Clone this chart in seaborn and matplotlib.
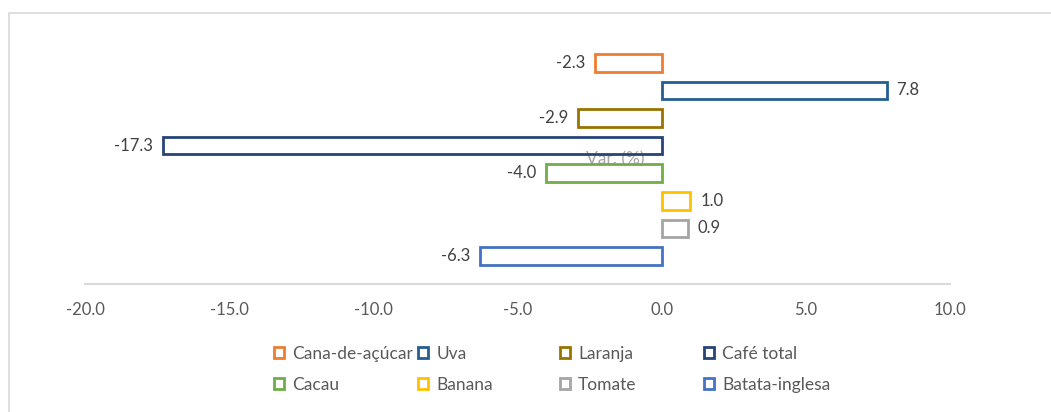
import matplotlib
matplotlib.use("Agg")
import matplotlib.pyplot as plt
from matplotlib.patches import Patch, Rectangle
from matplotlib.ticker import FuncFormatter, FixedLocator
import seaborn as sns
import pandas as pd

# Crop price variation (%)
categories = ["Cana-de-açúcar", "Uva", "Laranja", "Café total",
              "Cacau", "Banana", "Tomate", "Batata-inglesa"]
values = [-2.3, 7.8, -2.9, -17.3, -4.0, 1.0, 0.9, -6.3]
colors = ["#ED7D31", "#255E91", "#997300", "#264478",
          "#70AD47", "#FFC000", "#A5A5A5", "#4472C4"]
x_ticks = [-20, -15, -10, -5, 0, 5, 10]
axis_title = "Var. (%)"

sns.set_theme(style="white")
plt.rcParams["font.family"] = ["Lato", "DejaVu Sans"]
plt.rcParams["axes.unicode_minus"] = False

W, H = 1051, 412
fig = plt.figure(figsize=(W / 100, H / 100), dpi=100)

# plot area in pixel terms
left_px, right_px, top_px, bottom_px = 85, 950, 20, 284
ax = fig.add_axes([left_px / W, 1 - bottom_px / H,
                   (right_px - left_px) / W, (bottom_px - top_px) / H])

df = pd.DataFrame({"cat": categories, "val": values})
palette = dict(zip(categories, colors))
sns.barplot(data=df, x="val", y="cat", hue="cat", palette=palette,
            order=categories, hue_order=categories, orient="h",
            fill=False, width=0.64, linewidth=2.0, legend=False, ax=ax)

for cont in ax.containers:
    ax.bar_label(cont, fmt="%.1f", padding=7, fontsize=12, color="#404040")

ax.set_xlim(-20, 10)
ax.set_ylim(8.01, -1.55)
ax.xaxis.set_major_locator(FixedLocator(x_ticks))
ax.xaxis.set_major_formatter(FuncFormatter(lambda v, p: f"{v:.1f}"))
ax.tick_params(axis="x", length=0, pad=13, labelsize=12, labelcolor="#595959")
ax.set_yticks([])
ax.set_ylabel("")
for s in ["top", "right", "left"]:
    ax.spines[s].set_visible(False)
ax.spines["bottom"].set_color("#D9D9D9")
ax.spines["bottom"].set_linewidth(1.5)

ax.set_xlabel(axis_title, fontsize=12.5, color="#A6A6A6")
ax.xaxis.set_label_coords((615 - left_px) / (right_px - left_px),
                          (bottom_px - 151) / (bottom_px - top_px))
ax.xaxis.label.set_zorder(0)

# legend, laid out in four columns of two entries
col_x = [274, 418, 560, 704]
for c in range(4):
    idx = [c, c + 4]
    handles = [Patch(facecolor="white", edgecolor=colors[i], linewidth=2.0)
               for i in idx]
    labels = [categories[i] for i in idx]
    fig.legend(handles, labels, loc="upper left",
               bbox_to_anchor=(col_x[c] / W, 1 - 346 / H),
               frameon=False, borderpad=0, borderaxespad=0,
               handlelength=0.6, handleheight=0.6, handletextpad=0.45,
               labelspacing=0.85, fontsize=12.5, labelcolor="#595959")

# chart area border
fig.add_artist(Rectangle((9 / W, -0.1), 1.2, 1 - 13 / H + 0.1,
                         transform=fig.transFigure, fill=False,
                         edgecolor="#D9D9D9", linewidth=1.2))

fig.savefig("out.png", dpi=100)
